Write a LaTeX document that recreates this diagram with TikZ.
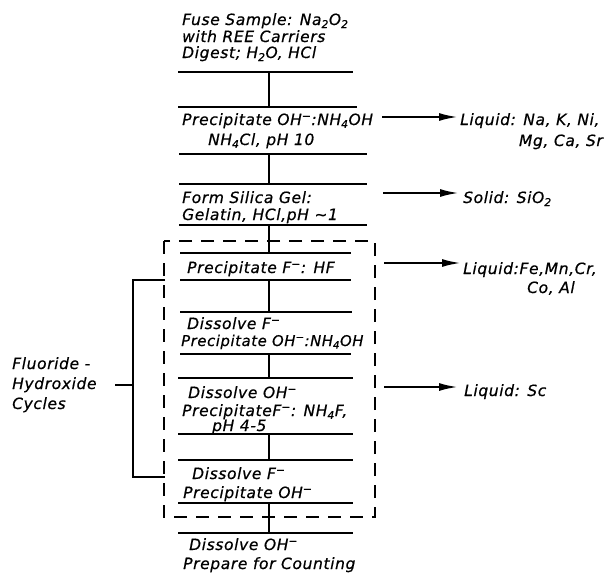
\documentclass[tikz,border=0pt]{standalone}
\usepackage{fontspec}
\usetikzlibrary{arrows.meta}
\newfontfamily\dinfont[LetterSpace=4,FakeBold=0.6]{DejaVu Sans Oblique}
\newcommand\sbs[1]{\textsubscript{#1}}
\newcommand\supm{\textsuperscript{−}}
\tikzset{
  txt/.style={font=\dinfont\fontsize{15.5}{18}\selectfont, inner sep=0pt, anchor=base west},
  txtr/.style={txt, anchor=base east},
  hl/.style={line width=1.7pt},
  vl/.style={line width=1.4pt},
  arr/.style={line width=2.2pt, -{Latex[length=19pt,width=8pt]}},
  dbox/.style={line width=1.7pt, dash pattern=on 13pt off 9pt},
  brk/.style={line width=1.4pt},
}
\begin{document}
\begin{tikzpicture}[x=1pt,y=-1pt]
\useasboundingbox (0,0) rectangle (607,573);
% step texts
\node[txt] (t1a) at (182,25) {Fuse Sample: Na\sbs{2}O\sbs{2}};
\node[txt] (t1b) at (182,42) {with REE Carriers};
\node[txt] (t1c) at (182,58) {Digest; H\sbs{2}O, HCl};
\node[txt] (t2a) at (182,125) {Precipitate OH\supm:NH\sbs{4}OH};
\node[txt] (t2b) at (208,145) {NH\sbs{4}Cl, pH 10};
\node[txt] (t3a) at (182,203) {Form Silica Gel:};
\node[txt] (t3b) at (182,220) {Gelatin, HCl,pH \textasciitilde1};
\node[txt] (t4) at (187,273) {Precipitate F\supm: HF};
\node[txt] (t5a) at (187,329) {Dissolve F\supm};
\node[txt, font=\dinfont\fontsize{14.8}{18}\selectfont] (t5b) at (181,346) {Precipitate OH\supm:NH\sbs{4}OH};
\node[txt] (t6a) at (188,398) {Dissolve OH\supm};
\node[txt] (t6b) at (182,416) {PrecipitateF\supm: NH\sbs{4}F,};
\node[txt] (t6c) at (212,431) {pH 4-5};
\node[txt] (t7a) at (192,479) {Dissolve F\supm};
\node[txt] (t7b) at (183,498) {Precipitate OH\supm};
\node[txt] (t8a) at (189,550) {Dissolve OH\supm};
\node[txt] (t8b) at (183,569) {Prepare for Counting};
% right texts
\node[txt] (r1a) at (460,125) {Liquid: Na, K, Ni,};
\node[txtr] (r1b) at (603,146) {Mg, Ca, Sr};
\node[txt] (r2) at (463,203) {Solid: SiO\sbs{2}};
\node[txt] (r3a) at (463,274) {Liquid:Fe,Mn,Cr,};
\node[txt] (r3b) at (527,293) {Co, Al};
\node[txt] (r4) at (464,396) {Liquid: Sc};
% left texts
\node[txt] (l1) at (12,369) {Fluoride -};
\node[txt] (l2) at (12,389) {Hydroxide};
\node[txt] (l3) at (12,409) {Cycles};
% horizontal step lines
\draw[hl] (178,72) -- (353,72);
\draw[hl] (178,107) -- (357,107);
\draw[hl] (179,154) -- (367,154);
\draw[hl] (179,184) -- (367,184);
\draw[hl] (179,225) -- (367,225);
\draw[hl] (180,253) -- (351,253);
\draw[hl] (180,280) -- (351,280);
\draw[hl] (180,312) -- (352,312);
\draw[hl] (180,354) -- (351,354);
\draw[hl] (178,378) -- (353,378);
\draw[hl] (178,434) -- (353,434);
\draw[hl] (178,460) -- (353,460);
\draw[hl] (178,503) -- (353,503);
\draw[hl] (178,533) -- (353,533);
% connector points
\coordinate (c1) at (269,72);  \coordinate (c2) at (269,107);
\coordinate (c3) at (269,154); \coordinate (c4) at (269,184);
\coordinate (c5) at (269,225); \coordinate (c6) at (269,253);
\coordinate (c7) at (269,280); \coordinate (c8) at (269,312);
\coordinate (c9) at (269,354); \coordinate (c10) at (269,378);
\coordinate (c11) at (269,434); \coordinate (c12) at (269,460);
\coordinate (c13) at (269,503); \coordinate (c14) at (269,533);
\draw[vl] (c1) -- (c2);
\draw[vl] (c3) -- (c4);
\draw[vl] (c5) -- (c6);
\draw[vl] (c7) -- (c8);
\draw[vl] (c9) -- (c10);
\draw[vl] (c11) -- (c12);
\draw[vl] (c13) -- (c14);
% dashed box
\draw[dbox] (164,241) rectangle (375,517);
% arrows
\coordinate (a1) at (382,117);
\coordinate (a2) at (383,193);
\coordinate (a3) at (384,263);
\coordinate (a4) at (384,387);
\draw[arr] (a1) -- ([xshift=-2pt]a1 -| r1a.west);
\draw[arr] (a2) -- ([xshift=-4pt]a2 -| r2.west);
\draw[arr] (a3) -- ([xshift=-2pt]a3 -| r3a.west);
\draw[arr] (a4) -- ([xshift=-6pt]a4 -| r4.west);
% bracket
\coordinate (b1) at (165,280);
\coordinate (b2) at (133,280);
\coordinate (b3) at (133,477);
\coordinate (b4) at (165,477);
\coordinate (bm) at (133,385);
\coordinate (bt) at (115,385);
\draw[brk] (b1) -- (b2) -- (b3) -- (b4);
\draw[brk] (bm) -- (bt);
\end{tikzpicture}
\end{document}
